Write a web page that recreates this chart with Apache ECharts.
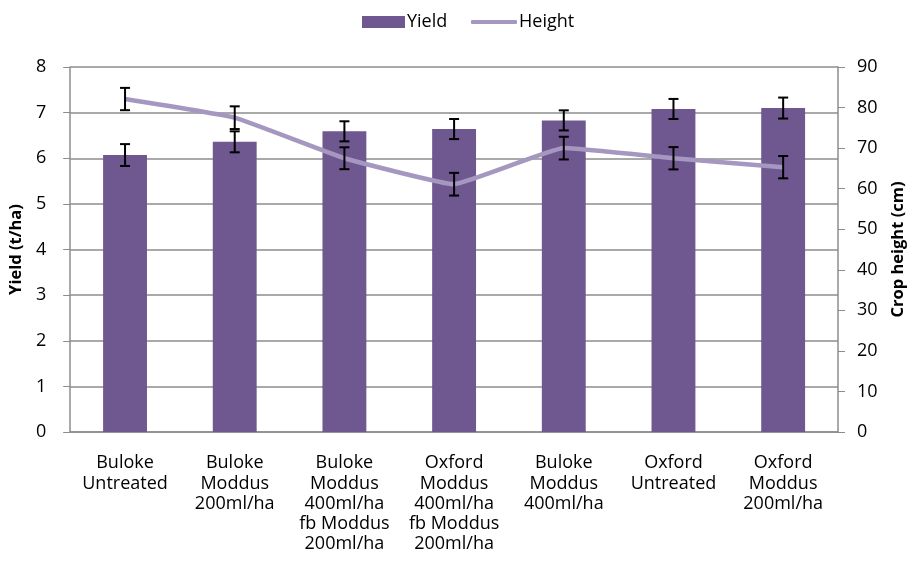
<!DOCTYPE html>
<html>
<head>
<meta charset="utf-8">
<style>
  html, body { margin: 0; padding: 0; background: #fff; }
  #chart { width: 915px; height: 577px; }
</style>
<script src="https://cdn.jsdelivr.net/npm/echarts@6/dist/echarts.min.js"></script>
</head>
<body>
<div id="chart"></div>
<script>
var categories = [
  'Buloke\nUntreated',
  'Buloke\nModdus\n200ml/ha',
  'Buloke\nModdus\n400ml/ha\nfb Moddus\n200ml/ha',
  'Oxford\nModdus\n400ml/ha\nfb Moddus\n200ml/ha',
  'Buloke\nModdus\n400ml/ha',
  'Oxford\nUntreated',
  'Oxford\nModdus\n200ml/ha'
];
var yieldValues = [6.07, 6.36, 6.59, 6.64, 6.83, 7.08, 7.10];
var yieldErr = [0.24, 0.23, 0.22, 0.22, 0.22, 0.22, 0.23];
var heightValues = [82.1, 77.5, 67.5, 61.1, 70.0, 67.5, 65.3];
var heightErr = [2.75, 2.8, 2.7, 2.8, 2.8, 2.75, 2.75];

var font = '"Open Sans", "Liberation Sans", sans-serif';

// error bar data: [index, low, high]
function errData(vals, errs) {
  var out = [];
  for (var i = 0; i < vals.length; i++) {
    out.push([i, vals[i] - errs[i], vals[i] + errs[i]]);
  }
  return out;
}

function renderErr(params, api) {
  var lo = api.coord([api.value(0), api.value(1)]);
  var hi = api.coord([api.value(0), api.value(2)]);
  var half = 5;
  var style = {stroke: '#000', lineWidth: 2, fill: null};
  return {
    type: 'group',
    children: [
      {type: 'line', shape: {x1: lo[0], y1: lo[1], x2: hi[0], y2: hi[1]}, style: style},
      {type: 'line', shape: {x1: lo[0] - half, y1: lo[1], x2: lo[0] + half, y2: lo[1]}, style: style},
      {type: 'line', shape: {x1: hi[0] - half, y1: hi[1], x2: hi[0] + half, y2: hi[1]}, style: style}
    ]
  };
}

var legendText = {fontSize: 18, color: '#000', fontFamily: font, padding: [0, 0, 0, -3]};

var chart = echarts.init(document.getElementById('chart'));

chart.setOption({
  animation: false,
  textStyle: {fontFamily: font, color: '#000'},
  legend: [
    {
      left: 357,
      top: 8,
      itemWidth: 43,
      itemHeight: 12,
      textStyle: legendText,
      data: [{name: 'Yield', icon: 'rect'}]
    },
    {
      left: 466,
      top: 8,
      itemWidth: 46,
      itemHeight: 4,
      textStyle: legendText,
      data: [{name: 'Height', icon: 'roundRect'}]
    }
  ],
  grid: {left: 70, right: 73, top: 67, bottom: 145},
  xAxis: {
    type: 'category',
    data: categories,
    axisLine: {lineStyle: {color: '#8c8c8c', width: 1.5}},
    axisTick: {show: false},
    axisLabel: {
      interval: 0,
      fontSize: 18,
      lineHeight: 20.3,
      margin: 21,
      color: '#000',
      fontFamily: font
    }
  },
  yAxis: [
    {
      type: 'value',
      min: 0,
      max: 8,
      interval: 1,
      name: 'Yield (t/ha)',
      nameLocation: 'middle',
      nameGap: 42,
      nameTextStyle: {fontSize: 16.5, fontWeight: 'bold', color: '#000', fontFamily: font},
      axisLine: {show: true, lineStyle: {color: '#8c8c8c', width: 1.5}},
      axisTick: {show: true, length: 7, lineStyle: {color: '#8c8c8c'}},
      axisLabel: {fontSize: 18, margin: 24, color: '#000', fontFamily: font},
      splitLine: {lineStyle: {color: '#8c8c8c', width: 1.5}}
    },
    {
      type: 'value',
      min: 0,
      max: 90,
      interval: 10,
      name: 'Crop height (cm)',
      nameLocation: 'middle',
      nameGap: 52,
      nameTextStyle: {fontSize: 16.5, fontWeight: 'bold', color: '#000', fontFamily: font},
      axisLine: {show: true, lineStyle: {color: '#8c8c8c', width: 1.5}},
      axisTick: {show: true, length: 7, lineStyle: {color: '#8c8c8c'}},
      axisLabel: {fontSize: 18, margin: 19, color: '#000', fontFamily: font},
      splitLine: {show: false}
    }
  ],
  series: [
    {
      name: 'Yield',
      type: 'bar',
      data: yieldValues,
      barWidth: '40%',
      itemStyle: {color: '#6f578f'},
      z: 2
    },
    {
      name: 'Height',
      type: 'line',
      yAxisIndex: 1,
      data: heightValues,
      smooth: 0.1,
      symbol: 'none',
      lineStyle: {color: '#a597c0', width: 4.5},
      itemStyle: {color: '#a597c0'},
      z: 3
    },
    {
      type: 'custom',
      name: 'yieldErr',
      data: errData(yieldValues, yieldErr),
      renderItem: renderErr,
      encode: {x: 0, y: [1, 2]},
      z: 4
    },
    {
      type: 'custom',
      name: 'heightErr',
      yAxisIndex: 1,
      data: errData(heightValues, heightErr),
      renderItem: renderErr,
      encode: {x: 0, y: [1, 2]},
      z: 4
    }
  ]
});
</script>
</body>
</html>
